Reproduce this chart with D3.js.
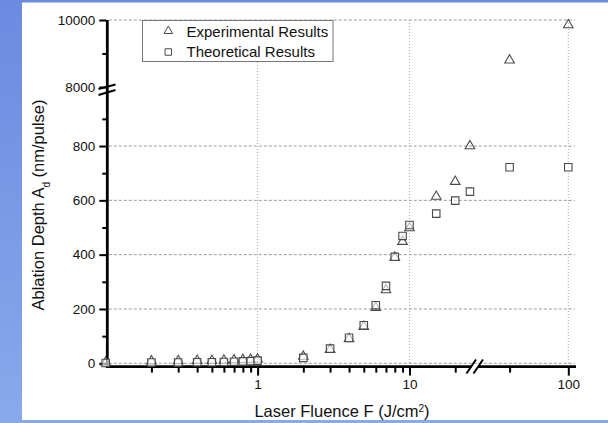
<!DOCTYPE html>
<html><head><meta charset="utf-8">
<script src="https://cdn.jsdelivr.net/npm/d3@7"></script>
<style>
html,body{margin:0;padding:0;background:#fff;}
body{width:608px;height:423px;overflow:hidden;}
svg{display:block;}
text{font-family:"Liberation Sans",Arial,sans-serif;}
</style></head>
<body>
<svg id="c" width="608" height="423"></svg>
<script>
// ---- data ----
const fluence = [0.1,0.2,0.3,0.4,0.5,0.6,0.7,0.8,0.9,1,2,3,4,5,6,7,8,9,10,15,20,25,50,100];
const experimental = [3,8,9,10,10,11,12,13,14,15,25,50,90,135,205,270,390,448,498,614,669,800,8800,9850];
const theoretical = [1,3,3,4,4,5,6,7,8,10,20,54,94,140,214,285,392,469,509,551,599,632,722,722];
const xMajorLeft = [1,10];
const xMinorLeft = [0.2,0.3,0.4,0.5,0.6,0.7,0.8,0.9,2,3,4,5,6,7,8,9,20];
const xMajorRight = [100];
const xMinorRight = [50];
const yMajorLow = [0,200,400,600,800];
const yMinorLow = [100,300,500,700,900];
const yMajorHigh = [8000,10000];
const yMinorHigh = [9000];
const seriesNames = ["Experimental Results","Theoretical Results"];

const FONT = "'Liberation Sans',Arial,sans-serif";
const svg = d3.select("#c");
// background
const defs = svg.append("defs");
const g1 = defs.append("linearGradient").attr("id","bg").attr("x1",0).attr("y1",0).attr("x2",0).attr("y2",1);
g1.append("stop").attr("offset","0%").attr("stop-color","#6a8be0");
g1.append("stop").attr("offset","100%").attr("stop-color","#88a9ec");
svg.append("rect").attr("width",608).attr("height",423).attr("fill","url(#bg)");
svg.append("rect").attr("x",22).attr("y",2.5).attr("width",590).attr("height",417.5).attr("fill","#fff");

// scales
const xL = d3.scaleLog().domain([0.1,27]).range([105.7, 409.5+151.9*Math.log10(2.7)]);
const xR = d3.scaleLinear().domain([27,100]).range([482.6,568.3]);
const x = v => v <= 27 ? xL(v) : xR(v);
const yLo = d3.scaleLinear().domain([0,1000]).range([363.3,91.7]);
const yHi = d3.scaleLinear().domain([8000,10000]).range([87,20]);
const y = v => v < 4000 ? yLo(v) : yHi(v);

const X0 = 107.3, X1 = 575, YT = 20, YAX = 366.6;

// grid
const grid = svg.append("g");
grid.selectAll(".hg").data(yMajorLow).enter().append("line")
  .attr("x1",X0+1.5).attr("x2",X1).attr("y1",d=>yLo(d)).attr("y2",d=>yLo(d))
  .attr("stroke","#9a9a9a").attr("stroke-width",1).attr("stroke-dasharray","3,2");
grid.append("line").attr("x1",X0+1.5).attr("x2",X1).attr("y1",yHi(10000)).attr("y2",yHi(10000))
  .attr("stroke","#9a9a9a").attr("stroke-width",1).attr("stroke-dasharray","3,2");
grid.selectAll(".vg").data([1,10,100]).enter().append("line")
  .attr("x1",d=>x(d)).attr("x2",d=>x(d)).attr("y1",YT).attr("y2",yLo(0))
  .attr("stroke","#a8a8a8").attr("stroke-width",1).attr("stroke-dasharray","1,2");

// axes ticks
function styleAxis(g){
  g.attr("font-size",13.5).attr("font-family",FONT);
  g.select(".domain").remove();
  g.selectAll(".tick line").attr("stroke","#000").attr("stroke-width",2);
  g.selectAll(".tick text").attr("fill","#111").attr("font-size",13.5).style("font-size","13.5px").style("font-family",FONT);
}
const fmt = d3.format("d");
svg.append("g").attr("transform",`translate(${X0-1},0)`)
  .call(d3.axisLeft(yLo).tickValues(yMajorLow).tickSize(7).tickPadding(4).tickFormat(fmt)).call(styleAxis);
svg.append("g").attr("transform",`translate(${X0-1},0)`)
  .call(d3.axisLeft(yLo).tickValues(yMinorLow).tickSize(4).tickFormat("")).call(styleAxis);
svg.append("g").attr("transform",`translate(${X0-1},0)`)
  .call(d3.axisLeft(yHi).tickValues(yMajorHigh).tickSize(7).tickPadding(4).tickFormat(fmt)).call(styleAxis);
svg.append("g").attr("transform",`translate(${X0-1},0)`)
  .call(d3.axisLeft(yHi).tickValues(yMinorHigh).tickSize(4).tickFormat("")).call(styleAxis);

svg.append("g").attr("transform",`translate(0,${YAX+1})`)
  .call(d3.axisBottom(xL).tickValues(xMajorLeft).tickSize(8).tickPadding(4).tickFormat(fmt)).call(styleAxis);
svg.append("g").attr("transform",`translate(0,${YAX+1})`)
  .call(d3.axisBottom(xL).tickValues(xMinorLeft).tickSize(5).tickFormat("")).call(styleAxis);
svg.append("g").attr("transform",`translate(0,${YAX+1})`)
  .call(d3.axisBottom(xR).tickValues(xMajorRight).tickSize(8).tickPadding(4).tickFormat(fmt)).call(styleAxis);
svg.append("g").attr("transform",`translate(0,${YAX+1})`)
  .call(d3.axisBottom(xR).tickValues(xMinorRight).tickSize(5).tickFormat("")).call(styleAxis);

// axis lines
svg.append("line").attr("x1",X0).attr("x2",X0).attr("y1",YT).attr("y2",YAX+1.5).attr("stroke","#000").attr("stroke-width",2.8);
svg.append("line").attr("x1",X0-1.4).attr("x2",X1+1).attr("y1",YAX).attr("y2",YAX).attr("stroke","#000").attr("stroke-width",2.8);
// x break
svg.append("rect").attr("x",471.5).attr("y",YAX-2).attr("width",6.5).attr("height",4).attr("fill","#fff");
[[466.5,373.5,476,359.5],[473.5,373.5,483,359.5]].forEach(s=>{
  svg.append("line").attr("x1",s[0]).attr("y1",s[1]).attr("x2",s[2]).attr("y2",s[3]).attr("stroke","#000").attr("stroke-width",2);
});
// y break
[[98.5,89,115.5,84.5],[98.5,95,115.5,90]].forEach(s=>{
  svg.append("line").attr("x1",s[0]).attr("y1",s[1]).attr("x2",s[2]).attr("y2",s[3]).attr("stroke","#000").attr("stroke-width",2);
});

// markers
const tri = d3.symbol().type(d3.symbolTriangle).size(40);
const sq = d3.symbol().type(d3.symbolSquare).size(56);
const pts = svg.append("g");
pts.selectAll(".e").data(fluence.map((f,i)=>[f,experimental[i]])).enter().append("path")
  .attr("d",tri).attr("transform",d=>`translate(${x(d[0])},${y(d[1])})`)
  .attr("fill","none").attr("stroke","#4a4a4a").attr("stroke-width",1.1);
pts.selectAll(".t").data(fluence.map((f,i)=>[f,theoretical[i]])).enter().append("path")
  .attr("d",sq).attr("transform",d=>`translate(${x(d[0])},${y(d[1])})`)
  .attr("fill","#fff").attr("fill-opacity",0.6).attr("stroke","#4a4a4a").attr("stroke-width",1.1);

// legend
const lg = svg.append("g");
lg.append("rect").attr("x",142.5).attr("y",20.5).attr("width",190.5).attr("height",41)
  .attr("fill","#fff").attr("stroke","#777").attr("stroke-width",1);
lg.append("path").attr("d",d3.symbol().type(d3.symbolTriangle).size(32)).attr("transform","translate(168.3,31)")
  .attr("fill","none").attr("stroke","#4a4a4a").attr("stroke-width",1);
lg.append("path").attr("d",d3.symbol().type(d3.symbolSquare).size(42)).attr("transform","translate(168.3,52)")
  .attr("fill","none").attr("stroke","#4a4a4a").attr("stroke-width",1);
lg.selectAll(".lt").data(seriesNames).enter().append("text")
  .attr("x",186.5).attr("y",(d,i)=>36.7+i*20).text(d=>d)
  .attr("fill","#111").style("font-size","15px").style("font-family",FONT);

// axis titles
const yt = svg.append("text").attr("transform","translate(44,205) rotate(-90)").attr("text-anchor","middle")
  .attr("fill","#111").style("font-size","16.5px").style("font-family",FONT);
yt.append("tspan").text("Ablation Depth A");
yt.append("tspan").text("d").attr("baseline-shift","sub").style("font-size","10px");
yt.append("tspan").text(" (nm/pulse)");
const xt = svg.append("text").attr("x",342).attr("y",416.5).attr("text-anchor","middle")
  .attr("fill","#111").style("font-size","16.5px").style("font-family",FONT);
xt.append("tspan").text("Laser Fluence F (J/cm");
xt.append("tspan").text("2").attr("baseline-shift","super").style("font-size","10px");
xt.append("tspan").text(")");
</script>
</body></html>
